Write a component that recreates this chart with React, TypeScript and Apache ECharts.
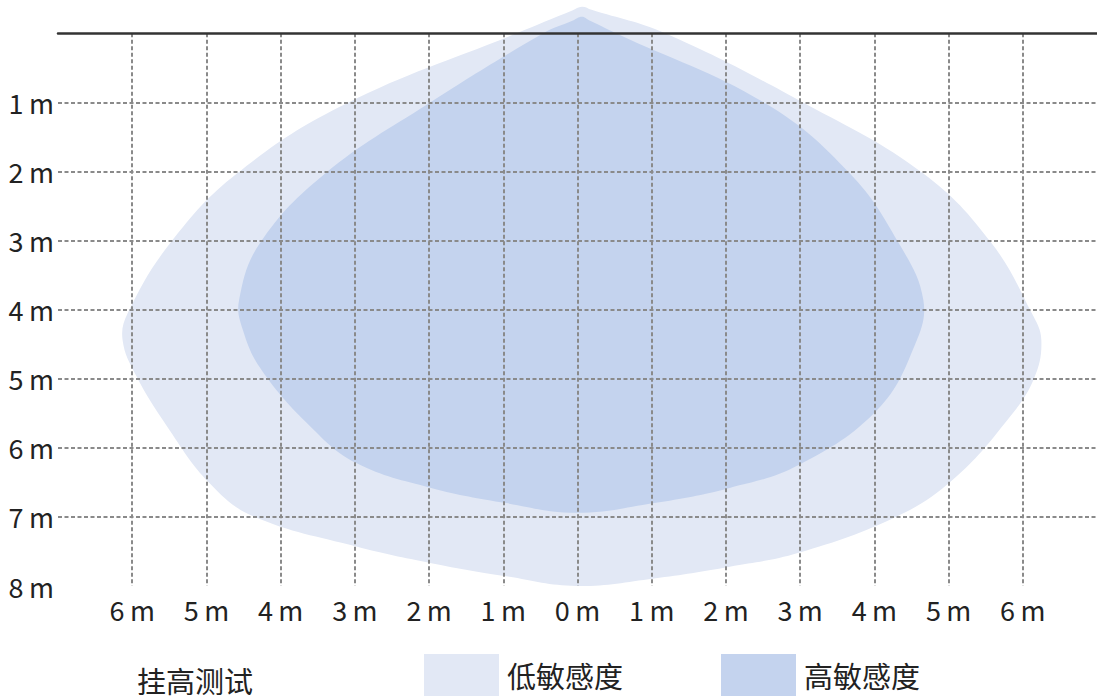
import React, { useEffect, useRef } from "react";
import * as echarts from "echarts";

// Axis ranges (metres)
const X_MIN = -7;
const X_MAX = 7;
const Y_MIN = 0;
const Y_MAX = 8;

const legendNames = ["低敏感度", "高敏感度"];
const titleText = "挂高测试";
const seriesColors = ["#e2e8f5", "#c4d3ee"];

// Low-sensitivity zone outline (x: metres left/right, y: metres down)
const lowX = [0.06, 0.19, 1.18, 3.07, 4.66, 5.58, 6.12, 6.25, 6.15, 5.79, 5.06, 4.31, 2.98, 2.05, 1.03, -0.02, -0.96, -1.97, -2.98, -4.37, -4.96, -5.53, -5.95, -6.13, -6.06, -5.49, -4.59, -3.12, -0.82, -0.07];
const lowY = [-0.385, -0.34, 0, 1.02, 2.03, 3.04, 4.05, 4.44, 5.0, 5.6, 6.46, 6.99, 7.52, 7.72, 7.89, 8.0, 7.86, 7.67, 7.43, 6.99, 6.51, 5.69, 4.95, 4.44, 4.05, 3.04, 2.03, 1.02, 0, -0.33];

// High-sensitivity zone outline
const highX = [0.06, 0.17, 0.52, 2.54, 3.67, 4.33, 4.66, 4.55, 4.04, 2.98, 2.05, 1.03, -0.02, -0.96, -1.97, -2.98, -3.6, -4.26, -4.51, -4.56, -4.28, -3.4, -2.01, -0.46, -0.07];
const highY = [-0.24, -0.18, 0, 1.02, 2.03, 3.04, 3.86, 4.5, 5.45, 6.25, 6.58, 6.8, 6.94, 6.8, 6.58, 6.22, 5.69, 4.87, 4.29, 3.86, 3.04, 2.03, 1.02, 0, -0.18];

const FONT = "'Noto Sans CJK SC', 'Noto Sans', sans-serif";

function zoneSeries(name: string, xs: number[], ys: number[], color: string, z: number) {
  const pts = xs.map((x, i) => [x, ys[i]]);
  return {
    type: "custom",
    name,
    z,
    xAxisIndex: 0,
    yAxisIndex: 0,
    itemStyle: { color },
    data: pts,
    encode: { x: 0, y: 1 },
    silent: true,
    renderItem: (params: any, api: any) => {
      if (params.dataIndex !== 0) return null;
      const coords = pts.map((p) => api.coord(p));
      return {
        type: "polygon",
        shape: { points: coords, smooth: 0.4 },
        style: { fill: color, stroke: "none" },
      };
    },
  };
}

export default function App() {
  const ref = useRef<HTMLDivElement>(null);
  useEffect(() => {
    if (!ref.current) return;
    const chart = echarts.init(ref.current, null, { renderer: "svg" });
    const dashed = { color: "#8a8a8a", width: 2, type: [4, 2.5] as any };
    chart.setOption({
      animation: false,
      backgroundColor: "#ffffff",
      textStyle: { fontFamily: FONT },
      title: {
        text: titleText,
        left: 137,
        top: 665,
        padding: 0,
        textStyle: { fontFamily: FONT, fontSize: 29, fontWeight: "normal", color: "#222" },
      },
      legend: {
        data: legendNames,
        left: 424,
        top: 654,
        padding: 0,
        icon: "rect",
        itemWidth: 75,
        itemHeight: 42,
        itemGap: 98,
        selectedMode: false,
        textStyle: { fontFamily: FONT, fontSize: 29, color: "#222", padding: [14, 0, 0, 3] },
      },
      grid: { left: 58, right: 0, top: 33.3, bottom: 113 },
      xAxis: [
        {
          type: "value",
          min: X_MIN,
          max: X_MAX,
          interval: 1,
          position: "bottom",
          z: 5,
          axisLine: { show: false },
          axisTick: { show: false },
          axisLabel: {
            margin: 10,
            showMinLabel: false,
            showMaxLabel: false,
            fontFamily: FONT,
            fontSize: 27,
            color: "#222",
            formatter: (v: number) => `${Math.abs(v)}\u2009m`,
          },
          splitLine: { show: true, showMinLine: false, showMaxLine: false, lineStyle: dashed },
        },
        {
          type: "value",
          min: X_MIN,
          max: X_MAX,
          interval: 1,
          position: "top",
          z: 6,
          axisLine: { show: true, onZero: false, lineStyle: { color: "#333", width: 2.5 } },
          axisTick: { show: false },
          axisLabel: { show: false },
          splitLine: { show: false },
        },
      ],
      yAxis: {
        type: "value",
        min: Y_MIN,
        max: Y_MAX,
        interval: 1,
        inverse: true,
        z: 5,
        axisLine: { show: false },
        axisTick: { show: false },
        axisLabel: {
          margin: 4,
          showMinLabel: false,
          fontFamily: FONT,
          fontSize: 27,
          color: "#222",
          padding: [6, 0, 0, 0],
          formatter: (v: number) => `${v}\u2009m`,
        },
        splitLine: { show: true, showMinLine: false, showMaxLine: false, lineStyle: dashed },
      },
      series: [
        zoneSeries(legendNames[0], lowX, lowY, seriesColors[0], 1),
        zoneSeries(legendNames[1], highX, highY, seriesColors[1], 2),
      ],
    });
    return () => chart.dispose();
  }, []);
  return (
    <div
      ref={ref}
      style={{ position: "absolute", left: 0, top: 0, width: 1097, height: 699 }}
    />
  );
}
